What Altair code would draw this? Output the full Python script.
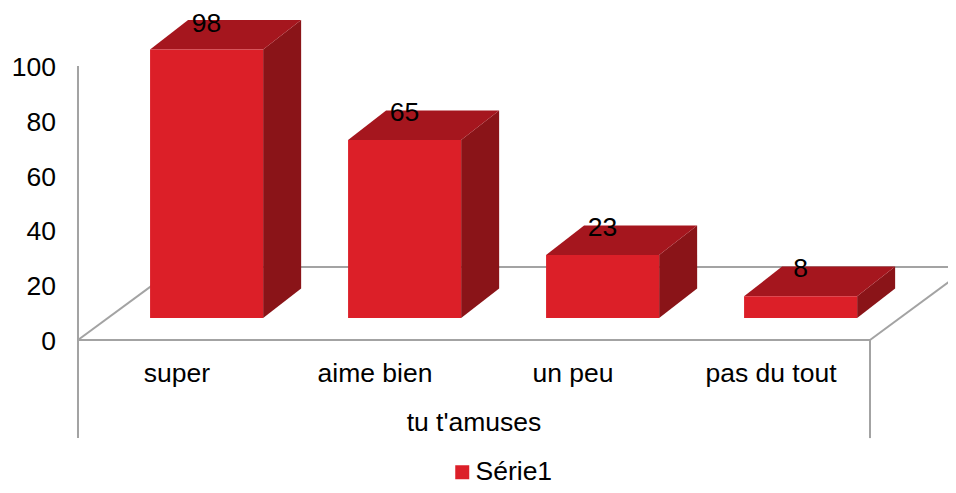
import altair as alt
import pandas as pd

categories = ["super", "aime bien", "un peu", "pas du tout"]
values = [98, 65, 23, 8]
label_lifts = [9.2, 10.0, 10.0, 10.0]
series_name = "Série1"
axis_title = "tu t'amuses"
y_ticks = [0, 20, 40, 60, 80, 100]

# Oblique-projection geometry, in scale units (categories / value units)
BAR_SHIFT = 0.364
BAR_W = 0.571
BAR_BASE = 8.0
BAR_DX = 0.192
BAR_DY = 10.8
FLOOR_DX = 0.5
FLOOR_DY = 26.6
LABEL_Y = -12.4
TITLE_Y = -30.4
FRAME_BOTTOM = -35.8
N = len(categories)
X_MIN, X_MAX = -0.3535, 4.3939
Y_MIN, Y_MAX = -52.92, 121.17

FONT = "Liberation Sans"
FS = 26.5
x_scale = alt.Scale(domain=[X_MIN, X_MAX], nice=False, zero=False)
y_scale = alt.Scale(domain=[Y_MIN, Y_MAX], nice=False, zero=False)
y_axis = alt.Axis(values=y_ticks, domain=False, ticks=False, grid=False, offset=-70, title=None,
                  labelFont=FONT, labelFontSize=FS, labelColor="black", labelPadding=22.5,
                  labelOffset=1.5, labelOverlap=False)
X = lambda f="x": alt.X(f"{f}:Q", scale=x_scale, axis=None, stack=None)
Y = lambda f="y": alt.Y(f"{f}:Q", scale=y_scale, stack=None, axis=y_axis)

front, top, side = [], [], []
for i, (c, v, lift) in enumerate(zip(categories, values, label_lifts)):
    x0, x1 = i + BAR_SHIFT, i + BAR_SHIFT + BAR_W
    yt = v + BAR_BASE
    front.append(dict(cat=c, x=x0, x2=x1, y=BAR_BASE, y2=yt, series=series_name, v=v,
                      lx=(x0 + x1) / 2, ly=yt + lift))
    top.append(dict(cat=c, x=x0, x2=x1, y=yt))
    top.append(dict(cat=c, x=x0 + BAR_DX, x2=x1 + BAR_DX, y=yt + BAR_DY))
    side.append(dict(cat=c, x=x1, y=BAR_BASE, y2=yt))
    side.append(dict(cat=c, x=x1 + BAR_DX, y=BAR_BASE + BAR_DY, y2=yt + BAR_DY))
front, top, side = map(pd.DataFrame, (front, top, side))

frame = pd.DataFrame([
    dict(x=0, x2=0, y=100, y2=FRAME_BOTTOM),
    dict(x=N, x2=N, y=0, y2=FRAME_BOTTOM),
    dict(x=0, x2=N, y=0, y2=0),
    dict(x=0, x2=FLOOR_DX, y=0, y2=FLOOR_DY),
    dict(x=N, x2=N + FLOOR_DX, y=0, y2=FLOOR_DY),
    dict(x=FLOOR_DX, x2=X_MAX, y=FLOOR_DY, y2=FLOOR_DY),
])

frame_layer = alt.Chart(frame).mark_rule(color="#a3a3a3", strokeWidth=2, clip=True).encode(
    x=X(), x2="x2:Q", y=Y(), y2="y2:Q")
side_layer = alt.Chart(side).mark_area(color="#8a1418", orient="vertical").encode(
    x=X(), y=Y(), y2="y2:Q", detail="cat:N")
top_layer = alt.Chart(top).mark_area(color="#a5161e", orient="horizontal").encode(
    y=Y(), x=X(), x2="x2:Q", detail="cat:N")
front_layer = alt.Chart(front).mark_bar().encode(
    x=X(), x2="x2:Q", y=Y(), y2="y2:Q",
    color=alt.Color("series:N", scale=alt.Scale(domain=[series_name], range=["#dc1f28"]),
                    legend=alt.Legend(title=None, orient="none", legendX=441, legendY=451,
                                      symbolType="square", symbolSize=196, symbolStrokeWidth=0,
                                      labelFont=FONT, labelFontSize=FS, labelColor="black",
                                      labelOffset=0)),
)
value_layer = alt.Chart(front).mark_text(font=FONT, fontSize=FS, color="black").encode(
    x=X("lx"), y=Y("ly"), text="v:Q")
cat_df = pd.DataFrame({"x": [i + 0.5 for i in range(N)], "y": [LABEL_Y] * N, "t": categories})
cat_layer = alt.Chart(cat_df).mark_text(font=FONT, fontSize=FS, color="black").encode(
    x=X(), y=Y(), text="t:N")
title_df = pd.DataFrame({"x": [N / 2], "y": [TITLE_Y], "t": [axis_title]})
title_layer = alt.Chart(title_df).mark_text(font=FONT, fontSize=FS, color="black").encode(
    x=X(), y=Y(), text="t:N")

chart = alt.layer(frame_layer, side_layer, top_layer, front_layer,
                  value_layer, cat_layer, title_layer).properties(
    width=940, height=477, padding=0, autosize=alt.AutoSizeParams(type="none"),
).configure_view(stroke=None)
chart.save("out.html", embed_options={"renderer": "svg", "actions": False})
